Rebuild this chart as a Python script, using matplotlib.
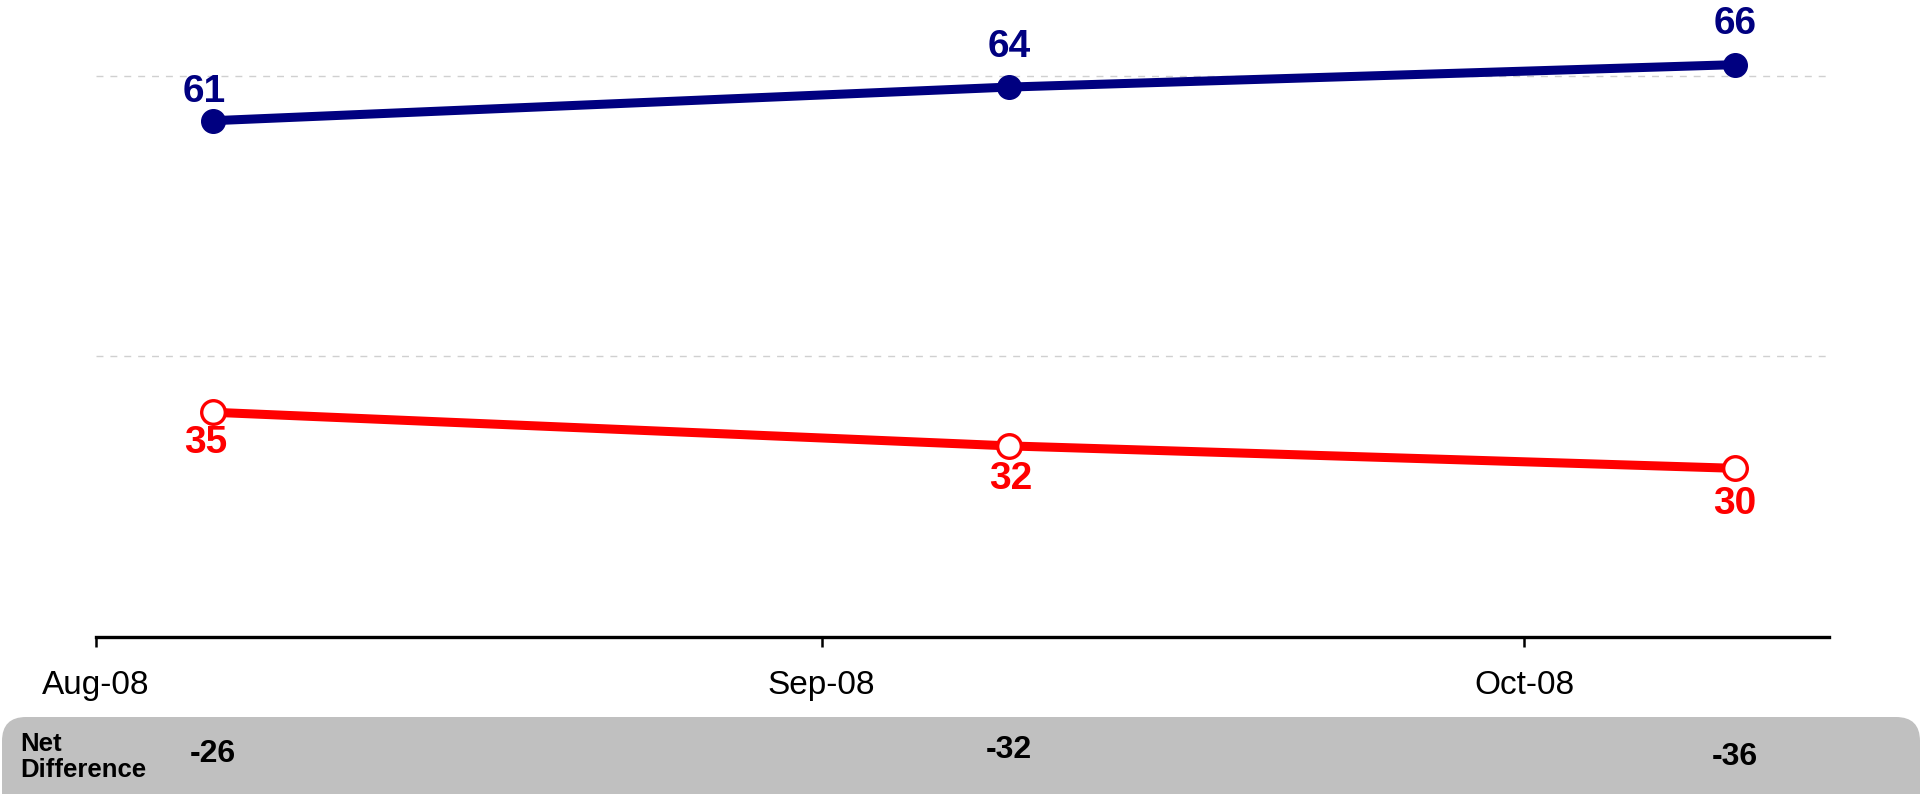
import matplotlib
matplotlib.use("Agg")
import matplotlib.pyplot as plt
from matplotlib.patches import FancyBboxPatch
from matplotlib.transforms import blended_transform_factory
import datetime as dt

plt.rcParams['font.family'] = ['Liberation Sans', 'DejaVu Sans']

# Data
dates = ["2008-08-06", "2008-09-09", "2008-10-10"]
blue_values = [61, 64, 66]
red_values = [35, 32, 30]
net_difference = [-26, -32, -36]
tick_dates = ["2008-08-01", "2008-09-01", "2008-10-01"]
tick_labels = ["Aug-08", "Sep-08", "Oct-08"]
net_label = "Net\nDifference"

x = [dt.datetime.strptime(d, "%Y-%m-%d") for d in dates]
xt = [dt.datetime.strptime(d, "%Y-%m-%d") for d in tick_dates]

W, H = 1923, 794
fig = plt.figure(figsize=(W / 100, H / 100), dpi=100)

# background layer in pixel coordinates for the grey box
bg = fig.add_axes([0, 0, 1, 1])
bg.set_xlim(0, W)
bg.set_ylim(H, 0)
bg.axis("off")
box = FancyBboxPatch((2, 717), 1918, 120, boxstyle="round,pad=0,rounding_size=24",
                     facecolor="#C0C0C0", edgecolor="none")
bg.add_patch(box)

ax = fig.add_axes([95.7 / W, (H - 636.5) / H, (1828.6 - 95.7) / W, (636.5 - 19.8) / H])
ax.set_xlim(dt.datetime(2008, 8, 1), dt.datetime(2008, 10, 14))
ax.set_ylim(15, 70)

for s in ["top", "right", "left"]:
    ax.spines[s].set_visible(False)
ax.spines["bottom"].set_linewidth(2.4)
ax.spines["bottom"].set_color("black")
ax.set_yticks([])
for yv in [40, 65]:
    ax.axhline(yv, color="#D0D0D0", lw=1.0, ls=(0, (5, 5)), zorder=0)

ax.set_xticks(xt)
ax.set_xticklabels(tick_labels)
ax.tick_params(axis="x", direction="out", length=7, width=1.8, pad=17, labelsize=24, colors="black")
ax.patch.set_alpha(0)

ax.plot(x, blue_values, color="#000080", lw=6.5, marker="o", markersize=17,
        markerfacecolor="#000080", markeredgecolor="#000080", zorder=3, clip_on=False)
ax.plot(x, red_values, color="#FF0000", lw=6.5, marker="o", markersize=17,
        markerfacecolor="white", markeredgecolor="#FF0000", markeredgewidth=2.4, zorder=3, clip_on=False)

blue_offsets = [(-6, 21), (0, 29), (0, 29)]
red_offsets = [(-5, -22), (1, -24), (0, -26)]
for xi, v, off in zip(x, blue_values, blue_offsets):
    ax.annotate(str(v), (xi, v), xytext=off, textcoords="offset points",
                ha="center", va="center", fontsize=28, fontweight="bold", color="#000080",
                annotation_clip=False)
for xi, v, off in zip(x, red_values, red_offsets):
    ax.annotate(str(v), (xi, v), xytext=off, textcoords="offset points",
                ha="center", va="center", fontsize=28, fontweight="bold", color="#FF0000",
                annotation_clip=False)

trans = blended_transform_factory(ax.transData, fig.transFigure)
net_y = [1 - 754 / H, 1 - 750 / H, 1 - 757 / H]
for xi, v, yy in zip(x, net_difference, net_y):
    ax.text(xi, yy, f"{v}", transform=trans, ha="center", va="center",
            fontsize=23, fontweight="bold", color="black", clip_on=False)

fig.text(20 / W, 1 - 757 / H, net_label, ha="left", va="center", fontsize=18.5,
         fontweight="bold", color="black", linespacing=1.1)

fig.savefig("out.png", dpi=100)
